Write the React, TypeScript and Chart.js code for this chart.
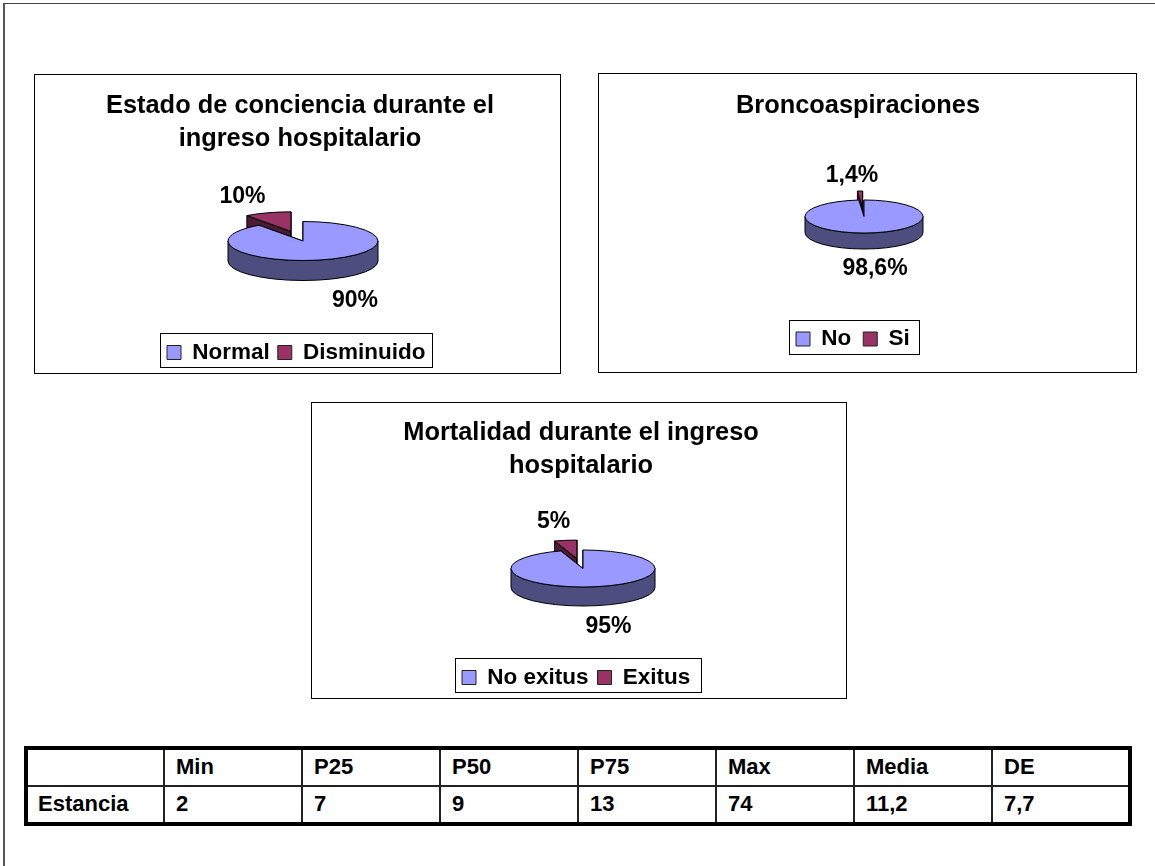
import React, { useEffect, useRef } from "react";
import { Chart, registerables } from "chart.js";

Chart.register(...registerables);

const FONT = '"Liberation Sans", Arial, sans-serif';

const concienciaLabels = ["Normal", "Disminuido"];
const concienciaValues = [90, 10];
const broncoLabels = ["No", "Si"];
const broncoValues = [98.6, 1.4];
const mortalidadLabels = ["No exitus", "Exitus"];
const mortalidadValues = [95, 5];

const tableHeader = ["", "Min", "P25", "P50", "P75", "Max", "Media", "DE"];
const tableRow = ["Estancia", "2", "7", "9", "13", "74", "11,2", "7,7"];

const BLUE = "#9999FF";
const BLUE_SIDE = "#4D4D80";
const RED = "#993366";
const RED_SIDE = "#4D1A33";

const LEGEND_FONT = 22.5;
const LEGEND_SWATCH = 14;

type PanelConfig = {
  title: string[];
  labels: string[];
  values: number[];
  box: [number, number, number, number];
  center: [number, number];
  radius: number;
  tilt: number;
  depth: number;
  explode: number;
  titleX: number;
  titleTop: number;
  legendBox: [number, number, number, number];
  legendStart: [number, number];
  legendGap: number;
  valueAt: [number, number][];
};

const panels: PanelConfig[] = [
  {
    title: ["Estado de conciencia durante el", "ingreso hospitalario"],
    labels: concienciaLabels,
    values: concienciaValues,
    box: [34, 74, 527, 300],
    center: [303, 241],
    radius: 75,
    tilt: 0.26,
    depth: 20,
    explode: 39,
    titleX: 300,
    titleTop: 89.5,
    legendBox: [160, 333, 273, 35],
    legendStart: [167, 345.5],
    legendGap: 8,
    valueAt: [
      [355, 301],
      [242.5, 196.5],
    ],
  },
  {
    title: ["Broncoaspiraciones"],
    labels: broncoLabels,
    values: broncoValues,
    box: [598, 73, 539, 300],
    center: [864, 216.5],
    radius: 59,
    tilt: 0.28,
    depth: 16,
    explode: 32,
    titleX: 858,
    titleTop: 89.5,
    legendBox: [789, 320, 131, 35],
    legendStart: [796, 332],
    legendGap: 12,
    valueAt: [
      [875, 268.5],
      [852, 175.5],
    ],
  },
  {
    title: ["Mortalidad durante el ingreso", "hospitalario"],
    labels: mortalidadLabels,
    values: mortalidadValues,
    box: [311, 402, 536, 297],
    center: [583, 568.5],
    radius: 72,
    tilt: 0.257,
    depth: 19,
    explode: 39,
    titleX: 581,
    titleTop: 416.5,
    legendBox: [455, 658, 247, 35],
    legendStart: [462, 670.5],
    legendGap: 9,
    valueAt: [
      [608.5, 627],
      [553.5, 521.5],
    ],
  },
];

const percentText = (v: number) => String(v).replace(".", ",") + "%";

// Lays the title, legend and pie out at fixed spots and paints the pie as a tilted disc.
function tiltedPiePlugin(cfg: PanelConfig) {
  const ox = cfg.box[0];
  const oy = cfg.box[1];
  return {
    id: "tiltedPie",
    afterLayout(chart: any) {
      const cx = cfg.center[0] - ox;
      const cy = cfg.center[1] - oy;
      const half = 90;
      chart.chartArea = {
        left: cx - half,
        right: cx + half,
        top: cy - half,
        bottom: cy + half,
        width: half * 2,
        height: half * 2,
      };
      const t = chart.titleBlock;
      t.left = cfg.titleX - ox - t.width / 2;
      t.right = t.left + t.width;
      t.top = cfg.titleTop - oy;
      t.bottom = t.top + t.height;

      const l = chart.legend;
      l.left = cfg.legendStart[0] - ox - cfg.legendGap;
      l.right = l.left + 600;
      l.width = 600;
      l.top = cfg.legendStart[1] - oy - (LEGEND_FONT - LEGEND_SWATCH) / 2 - cfg.legendGap;
      l.bottom = l.top + l.height;
    },
    beforeDatasetDraw(chart: any) {
      const ctx: CanvasRenderingContext2D = chart.ctx;
      const arcs: any[] = chart.getDatasetMeta(0).data;
      const { tilt, depth } = cfg;
      const sideColors = [BLUE_SIDE, RED_SIDE];

      for (let i = arcs.length - 1; i >= 0; i--) {
        const arc = arcs[i];
        const { x, y, startAngle, endAngle, outerRadius: r } = arc.getProps(
          ["x", "y", "startAngle", "endAngle", "outerRadius"],
          true
        );
        // The slice's offset option is read as a plain distance along its mid angle.
        const mid = (startAngle + endAngle) / 2;
        const shift = arc.options.offset || 0;
        const dx = Math.cos(mid) * shift;
        const dy = Math.sin(mid) * shift * tilt;
        const tipX = x + dx;
        const tipY = y + dy;
        const rimPoint = (a: number): [number, number] => [
          tipX + Math.cos(a) * r,
          tipY + Math.sin(a) * r * tilt,
        ];

        ctx.save();
        ctx.lineWidth = 1;
        ctx.strokeStyle = "#000";
        ctx.fillStyle = sideColors[i];

        // Cut faces of the slice
        for (const a of [startAngle, endAngle]) {
          const [px, py] = rimPoint(a);
          ctx.beginPath();
          ctx.moveTo(tipX, tipY);
          ctx.lineTo(px, py);
          ctx.lineTo(px, py + depth);
          ctx.lineTo(tipX, tipY + depth);
          ctx.closePath();
          ctx.fill();
          ctx.stroke();
        }

        // Lower rim, the only part of the wall that faces the viewer
        const from = Math.max(startAngle, 0);
        const to = Math.min(endAngle, Math.PI);
        if (to > from) {
          ctx.beginPath();
          ctx.ellipse(tipX, tipY, r, r * tilt, 0, from, to);
          ctx.ellipse(tipX, tipY + depth, r, r * tilt, 0, to, from, true);
          ctx.closePath();
          ctx.fill();
          ctx.stroke();
        }

        // Top face: the arc element itself, squashed about the pie centre
        const resolved = arc.options;
        arc.options = { ...resolved, offset: 0 };
        ctx.save();
        ctx.translate(dx, dy + y);
        ctx.scale(1, tilt);
        ctx.translate(0, -y);
        arc.draw(ctx);
        ctx.restore();
        arc.options = resolved;

        ctx.beginPath();
        ctx.moveTo(tipX, tipY);
        ctx.ellipse(tipX, tipY, r, r * tilt, 0, startAngle, endAngle);
        ctx.closePath();
        ctx.stroke();
        ctx.restore();
      }
      return false;
    },
    afterDraw(chart: any) {
      const ctx: CanvasRenderingContext2D = chart.ctx;
      ctx.save();
      ctx.strokeStyle = "#000";
      ctx.lineWidth = 1;
      ctx.strokeRect(0.5, 0.5, cfg.box[2] - 1, cfg.box[3] - 1);
      const [bx, by, bw, bh] = cfg.legendBox;
      ctx.strokeRect(bx - ox + 0.5, by - oy + 0.5, bw - 1, bh - 1);

      ctx.fillStyle = "#000";
      ctx.font = `bold 23px ${FONT}`;
      ctx.textAlign = "center";
      ctx.textBaseline = "middle";
      cfg.values.forEach((v, i) => {
        ctx.fillText(percentText(v), cfg.valueAt[i][0] - ox, cfg.valueAt[i][1] - oy);
      });
      ctx.restore();
    },
  };
}

function Panel({ cfg }: { cfg: PanelConfig }) {
  const ref = useRef<HTMLCanvasElement>(null);
  useEffect(() => {
    const chart = new Chart(ref.current!, {
      type: "pie",
      data: {
        labels: cfg.labels,
        datasets: [
          {
            data: cfg.values,
            backgroundColor: [BLUE, RED],
            borderWidth: 0,
            offset: [0, cfg.explode],
            radius: cfg.radius,
          },
        ],
      },
      options: {
        responsive: false,
        animation: false,
        events: [],
        layout: { padding: 0 },
        plugins: {
          tooltip: { enabled: false },
          title: {
            display: true,
            text: cfg.title,
            color: "#000",
            padding: 0,
            font: { family: FONT, size: 25.4, weight: "bold", lineHeight: 1.3 },
          },
          legend: {
            display: true,
            position: "bottom",
            align: "start",
            labels: {
              color: "#000",
              boxWidth: LEGEND_SWATCH,
              boxHeight: LEGEND_SWATCH,
              padding: cfg.legendGap,
              font: { family: FONT, size: LEGEND_FONT, weight: "bold" },
              generateLabels(c: any) {
                return (Chart as any).overrides.pie.plugins.legend.labels
                  .generateLabels(c)
                  .map((item: any) => ({ ...item, lineWidth: 1, strokeStyle: "#222" }));
              },
            },
          },
        },
      },
      plugins: [tiltedPiePlugin(cfg)],
    } as any);
    return () => chart.destroy();
  }, [cfg]);
  return (
    <canvas
      ref={ref}
      width={cfg.box[2]}
      height={cfg.box[3]}
      style={{ position: "absolute", left: cfg.box[0], top: cfg.box[1], display: "block" }}
    />
  );
}

const cellStyle = (col: number, row: number): React.CSSProperties => ({
  borderLeft: col === 0 ? "none" : "2px solid #222",
  borderTop: row === 0 ? "none" : "2px solid #222",
  padding: col === 0 ? "0 0 0 10px" : "0 0 0 11px",
  textAlign: "left",
  fontWeight: "bold",
  boxSizing: "border-box",
});

export default function App() {
  return (
    <div
      style={{
        position: "fixed",
        left: 0,
        top: 0,
        width: 1155,
        height: 866,
        background: "#fff",
        overflow: "hidden",
      }}
    >
      <div
        style={{
          position: "absolute",
          left: 3,
          top: 3,
          width: 1152,
          height: 863,
          borderLeft: "2px solid #555",
          borderTop: "1px solid #444",
          boxSizing: "border-box",
        }}
      />
      {panels.map((p) => (
        <Panel key={p.title[0]} cfg={p} />
      ))}
      <table
        style={{
          position: "absolute",
          left: 24,
          top: 746,
          width: 1108,
          height: 80,
          borderCollapse: "separate",
          borderSpacing: 0,
          border: "4px solid #000",
          boxSizing: "border-box",
          tableLayout: "fixed",
          font: `bold 22px ${FONT}`,
          color: "#000",
        }}
      >
        <colgroup>
          <col style={{ width: 135 }} />
          {tableHeader.slice(1).map((h, i) => (
            <col key={h} style={{ width: i === 6 ? 137 : 138 }} />
          ))}
        </colgroup>
        <tbody>
          <tr>
            {tableHeader.map((h, c) => (
              <td key={c} style={cellStyle(c, 0)}>
                {h}
              </td>
            ))}
          </tr>
          <tr>
            {tableRow.map((v, c) => (
              <td key={c} style={cellStyle(c, 1)}>
                {v}
              </td>
            ))}
          </tr>
        </tbody>
      </table>
    </div>
  );
}
